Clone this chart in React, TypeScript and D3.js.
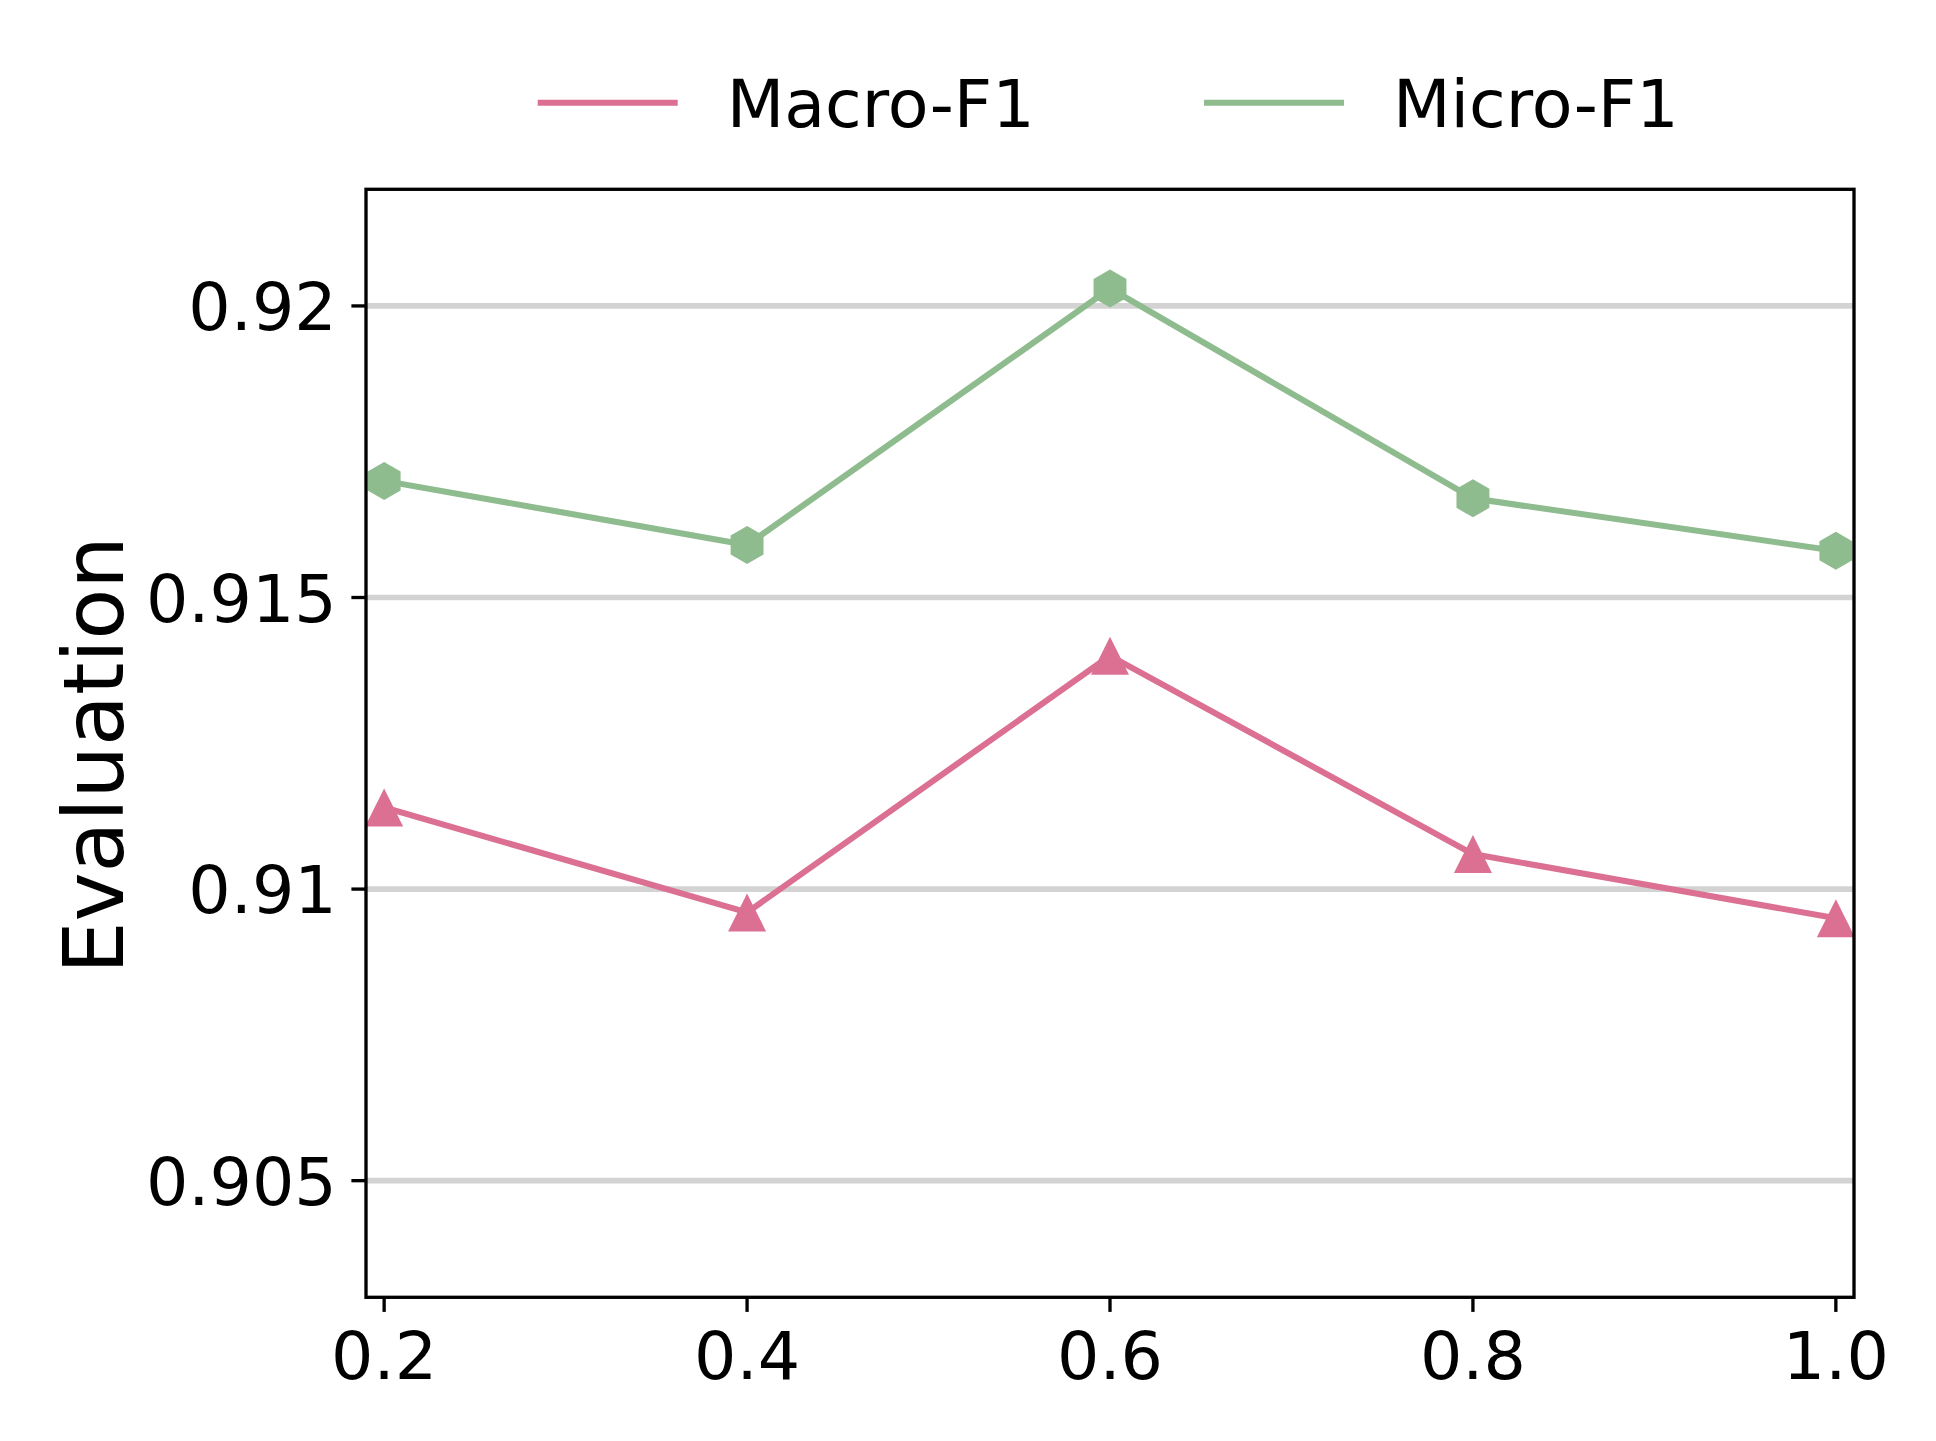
import React from "react";
import * as d3 from "d3";

const ratios = [0.2, 0.4, 0.6, 0.8, 1.0];
const macroF1 = [0.9114, 0.9096, 0.914, 0.9106, 0.9095];
const microF1 = [0.917, 0.9159, 0.9203, 0.9167, 0.9158];
const yTicks = [0.905, 0.91, 0.915, 0.92];
const yTickLabels = ["0.905", "0.91", "0.915", "0.92"];
const xTicks = [0.2, 0.4, 0.6, 0.8, 1.0];
const xTickLabels = ["0.2", "0.4", "0.6", "0.8", "1.0"];
const seriesNames = ["Macro-F1", "Micro-F1"];
const seriesColors = ["#DB7093", "#8FBC8F"];
const yLabel = "Evaluation";

const W = 1936;
const H = 1441;
const M = { left: 366, right: 1854, top: 189.3, bottom: 1297.3 };
const FONT = "DejaVu Sans";
const TICK_FS = 66.7;
const LABEL_FS = 83;
const LW = 6.1;
const MS = 38;

function hexPath(cx: number, cy: number, r: number) {
  const pts: string[] = [];
  for (let i = 0; i < 6; i++) {
    const a = -Math.PI / 2 + (i * Math.PI) / 3;
    pts.push(`${cx + r * Math.cos(a)},${cy + r * Math.sin(a)}`);
  }
  return `M${pts.join("L")}Z`;
}

function triPath(cx: number, cy: number, s: number) {
  const h = s / 2;
  return `M${cx},${cy - h}L${cx - h},${cy + h}L${cx + h},${cy + h}Z`;
}

export default function App() {
  const x = d3.scaleLinear().domain([0.19, 1.01]).range([M.left, M.right]);
  const y = d3.scaleLinear().domain([0.903, 0.922]).range([M.bottom, M.top]);
  const line = d3
    .line<number>()
    .x((_, i) => x(ratios[i]))
    .y((d) => y(d));
  const series = [macroF1, microF1];

  // legend layout
  const legY = 102.7;
  const handleLen = 140;
  const legStarts = [537.7, 1204];
  const textGap = 49;

  return (
    <svg
      width={W}
      height={H}
      style={{ position: "absolute", left: 0, top: 0, background: "#fff" }}
      fontFamily={FONT}
    >
      <rect x={0} y={0} width={W} height={H} fill="#fff" />
      <defs>
        <clipPath id="plotclip">
          <rect x={M.left} y={M.top} width={M.right - M.left} height={M.bottom - M.top} />
        </clipPath>
      </defs>
      {/* grid */}
      {yTicks.map((t) => (
        <line
          key={"g" + t}
          x1={M.left}
          x2={M.right}
          y1={y(t)}
          y2={y(t)}
          stroke="#d3d3d3"
          strokeWidth={5.7}
        />
      ))}
      {/* series */}
      <g clipPath="url(#plotclip)">
        {series.map((vals, si) => (
          <g key={"s" + si}>
            <path d={line(vals) || ""} fill="none" stroke={seriesColors[si]} strokeWidth={LW} strokeLinejoin="round" strokeLinecap="square" />
            {vals.map((v, i) =>
              si === 0 ? (
                <path key={i} d={triPath(x(ratios[i]), y(v), MS)} fill={seriesColors[si]} />
              ) : (
                <path key={i} d={hexPath(x(ratios[i]), y(v), MS / 2)} fill={seriesColors[si]} />
              )
            )}
          </g>
        ))}
      </g>
      {/* spines */}
      <rect
        x={M.left}
        y={M.top}
        width={M.right - M.left}
        height={M.bottom - M.top}
        fill="none"
        stroke="#000"
        strokeWidth={3.33}
      />
      {/* y ticks */}
      {yTicks.map((t, i) => (
        <g key={"yt" + t}>
          <line x1={M.left - 14.6} x2={M.left} y1={y(t)} y2={y(t)} stroke="#000" strokeWidth={3.33} />
          <text
            x={M.left - 14.6 - 14.6}
            y={y(t) + 0.364 * TICK_FS}
            textAnchor="end"
            fontSize={TICK_FS}
            fill="#000"
          >
            {yTickLabels[i]}
          </text>
        </g>
      ))}
      {/* x ticks */}
      {xTicks.map((t, i) => (
        <g key={"xt" + t}>
          <line x1={x(t)} x2={x(t)} y1={M.bottom} y2={M.bottom + 14.6} stroke="#000" strokeWidth={3.33} />
          <text x={x(t)} y={1379.3} textAnchor="middle" fontSize={TICK_FS} fill="#000">
            {xTickLabels[i]}
          </text>
        </g>
      ))}
      {/* y label */}
      <text
        transform={`translate(${123},${755}) rotate(-90)`}
        textAnchor="middle"
        fontSize={LABEL_FS}
        fill="#000"
      >
        {yLabel}
      </text>
      {/* legend */}
      {seriesNames.map((name, i) => (
        <g key={"l" + i}>
          <line
            x1={legStarts[i]}
            x2={legStarts[i] + handleLen}
            y1={legY}
            y2={legY}
            stroke={seriesColors[i]}
            strokeWidth={LW}
          />
          <text
            x={legStarts[i] + handleLen + textGap}
            y={127.3}
            fontSize={TICK_FS}
            fill="#000"
          >
            {name}
          </text>
        </g>
      ))}
    </svg>
  );
}
